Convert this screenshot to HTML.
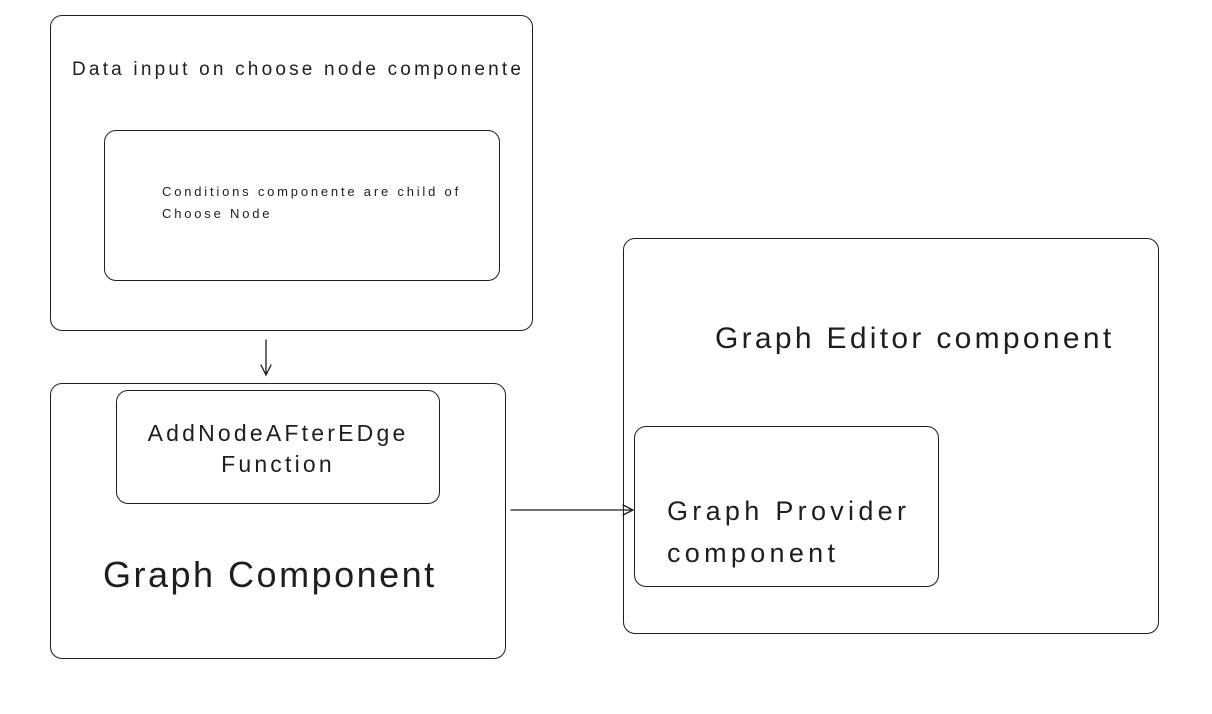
<!DOCTYPE html>
<html><head><meta charset="utf-8"><style>
html,body{margin:0;padding:0;background:#fff;}
body{width:1212px;height:714px;position:relative;overflow:hidden;font-family:"Liberation Sans",sans-serif;color:#1e1e1e;}
.b{position:absolute;border:1.3px solid #1e1e1e;border-radius:12px;box-sizing:border-box;}
.t{position:absolute;white-space:nowrap;line-height:1;}
</style></head><body>
<div class="b" style="left:50px;top:15px;width:483px;height:316px"></div>
<div class="t" style="left:72px;top:60px;font-size:19px;letter-spacing:3.2px">Data input on choose node componente</div>
<div class="b" style="left:104px;top:130px;width:396px;height:151px"></div>
<div class="t" style="left:162px;top:181px;font-size:13px;line-height:22px;letter-spacing:2.8px">Conditions componente are child of<br>Choose Node</div>

<div class="b" style="left:50px;top:383px;width:456px;height:276px"></div>
<div class="b" style="left:116px;top:390px;width:324px;height:114px"></div>
<div class="t" style="left:116px;width:324px;text-align:center;top:418px;font-size:23px;line-height:31px;letter-spacing:3.2px">AddNodeAFterEDge<br>Function</div>
<div class="t" style="left:103px;top:557px;font-size:36px;letter-spacing:2.5px">Graph Component</div>

<div class="b" style="left:623px;top:238px;width:536px;height:396px"></div>
<div class="t" style="left:715px;top:324px;font-size:30px;letter-spacing:3.3px">Graph Editor component</div>
<div class="b" style="left:634px;top:426px;width:305px;height:161px"></div>
<div class="t" style="left:667px;top:490px;font-size:27px;line-height:42px;letter-spacing:4.3px">Graph Provider<br>component</div>

<svg width="1212" height="714" style="position:absolute;left:0;top:0" fill="none" stroke="#1e1e1e" stroke-width="1.3" stroke-linecap="round">
<path d="M266 340 L266 375 M261 365 L266 375 L271 365"/>
<path d="M511 510 L633 510 M623 505 L633 510 L623 515"/>
</svg>
</body></html>
